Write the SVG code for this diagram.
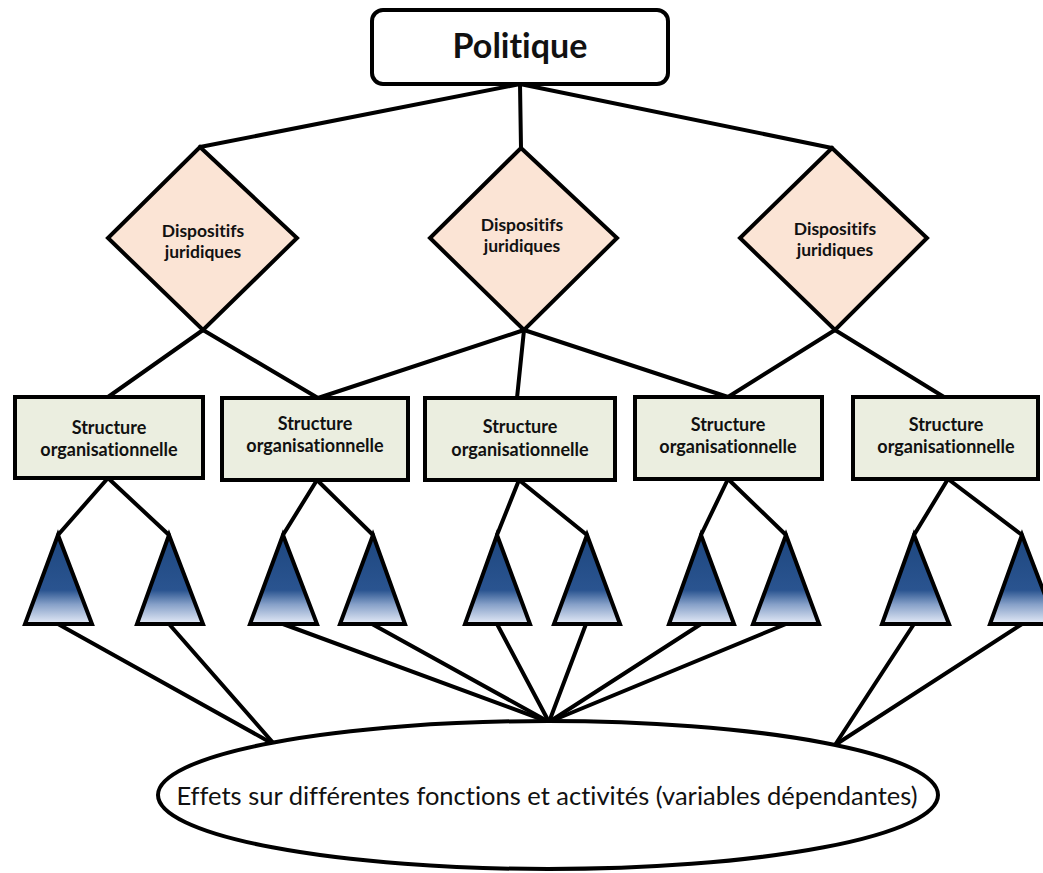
<svg xmlns="http://www.w3.org/2000/svg" width="1043" height="873" viewBox="0 0 1043 873">
<defs>
<linearGradient id="tg" x1="0" y1="0" x2="0" y2="1">
<stop offset="0" stop-color="#1e477f"/>
<stop offset="0.62" stop-color="#2a5490"/>
<stop offset="0.78" stop-color="#86a0c8"/>
<stop offset="1" stop-color="#e6ecf8"/>
</linearGradient>
<style>
.ln{stroke:#000;stroke-width:4;fill:none;stroke-linecap:round}
.dia{fill:#fbe4d5;stroke:#000;stroke-width:4;stroke-linejoin:miter}
.box{fill:#ebeee0;stroke:#000;stroke-width:4}
.tri{fill:url(#tg);stroke:#000;stroke-width:4;stroke-linejoin:miter}
text{font-variant-ligatures:none}
.t{font-family:Lato,"Open Sans",sans-serif;font-weight:bold;fill:#111;text-anchor:middle}
.dt{font-size:17.5px}
.st{font-size:18px}
</style>
</defs>
<rect width="1043" height="873" fill="#fff"/>
<g id="connectors">
<line class="ln" x1="520" y1="84" x2="200" y2="147"/>
<line class="ln" x1="520" y1="84" x2="521" y2="148"/>
<line class="ln" x1="520" y1="84" x2="832" y2="148"/>
<line class="ln" x1="203" y1="330" x2="108" y2="397"/>
<line class="ln" x1="203" y1="330" x2="318" y2="398"/>
<line class="ln" x1="524" y1="330" x2="318" y2="398"/>
<line class="ln" x1="524" y1="330" x2="517" y2="398"/>
<line class="ln" x1="524" y1="330" x2="728" y2="397"/>
<line class="ln" x1="835" y1="330" x2="728" y2="397"/>
<line class="ln" x1="835" y1="330" x2="944" y2="397"/>
<line class="ln" x1="108" y1="478" x2="58" y2="535"/>
<line class="ln" x1="108" y1="478" x2="169" y2="535"/>
<line class="ln" x1="317" y1="480" x2="283" y2="535"/>
<line class="ln" x1="317" y1="480" x2="373" y2="535"/>
<line class="ln" x1="519" y1="480" x2="497" y2="535"/>
<line class="ln" x1="519" y1="480" x2="587" y2="535"/>
<line class="ln" x1="728" y1="479" x2="701" y2="535"/>
<line class="ln" x1="728" y1="479" x2="786" y2="535"/>
<line class="ln" x1="948" y1="479" x2="914" y2="535"/>
<line class="ln" x1="948" y1="479" x2="1022" y2="535"/>
<line class="ln" x1="58" y1="624" x2="275" y2="745"/>
<line class="ln" x1="169" y1="624" x2="275" y2="745"/>
<line class="ln" x1="283" y1="624" x2="549" y2="722"/>
<line class="ln" x1="372" y1="624" x2="549" y2="722"/>
<line class="ln" x1="497" y1="624" x2="549" y2="722"/>
<line class="ln" x1="586" y1="624" x2="549" y2="722"/>
<line class="ln" x1="701" y1="624" x2="549" y2="722"/>
<line class="ln" x1="786" y1="624" x2="549" y2="722"/>
<line class="ln" x1="914" y1="624" x2="835" y2="745"/>
<line class="ln" x1="1022" y1="624" x2="835" y2="745"/>
</g>
<g id="politique">
<rect x="372" y="10" width="296" height="74" rx="11" fill="#fff" stroke="#000" stroke-width="4"/>
<text class="t" x="520" y="58" font-size="34">Politique</text>
</g>
<g id="dispositifs1">
<polygon class="dia" points="200,147 297,238 203,330 108,238"/>
<text class="t dt" x="203" y="237">Dispositifs</text>
<text class="t dt" x="203" y="258">juridiques</text>
</g>
<g id="dispositifs2">
<polygon class="dia" points="521,148 617,238 524,330 430,238"/>
<text class="t dt" x="522" y="231">Dispositifs</text>
<text class="t dt" x="522" y="252">juridiques</text>
</g>
<g id="dispositifs3">
<polygon class="dia" points="832,148 927,238 835,330 740,238"/>
<text class="t dt" x="835" y="235">Dispositifs</text>
<text class="t dt" x="835" y="256">juridiques</text>
</g>
<g id="structure1">
<rect class="box" x="15" y="397" width="188" height="81"/>
<text class="t st" x="109" y="434">Structure</text>
<text class="t st" x="109" y="456">organisationnelle</text>
</g>
<g id="structure2">
<rect class="box" x="222" y="398" width="186" height="82"/>
<text class="t st" x="315" y="430">Structure</text>
<text class="t st" x="315" y="452">organisationnelle</text>
</g>
<g id="structure3">
<rect class="box" x="425" y="398" width="190" height="82"/>
<text class="t st" x="520" y="433">Structure</text>
<text class="t st" x="520" y="456">organisationnelle</text>
</g>
<g id="structure4">
<rect class="box" x="635" y="397" width="187" height="82"/>
<text class="t st" x="728" y="431">Structure</text>
<text class="t st" x="728" y="453">organisationnelle</text>
</g>
<g id="structure5">
<rect class="box" x="853" y="397" width="185" height="82"/>
<text class="t st" x="946" y="431">Structure</text>
<text class="t st" x="946" y="453">organisationnelle</text>
</g>
<g id="tri1"><polygon class="tri" points="58,535 92,624 25,624"/></g>
<g id="tri2"><polygon class="tri" points="169,535 203,624 137,624"/></g>
<g id="tri3"><polygon class="tri" points="283,535 317,624 250,624"/></g>
<g id="tri4"><polygon class="tri" points="373,535 405,624 340,624"/></g>
<g id="tri5"><polygon class="tri" points="497,535 530,624 465,624"/></g>
<g id="tri6"><polygon class="tri" points="587,535 620,624 554,624"/></g>
<g id="tri7"><polygon class="tri" points="701,535 734,624 669,624"/></g>
<g id="tri8"><polygon class="tri" points="786,535 819,624 753,624"/></g>
<g id="tri9"><polygon class="tri" points="914,535 949,624 882,624"/></g>
<g id="tri10"><polygon class="tri" points="1022,535 1056,624 990,624"/></g>
<g id="effets">
<ellipse cx="548" cy="795" rx="390" ry="74" fill="#fff" stroke="#000" stroke-width="4"/>
<text x="547" y="805" font-family="Lato,'Open Sans',sans-serif" font-size="25.5" fill="#111" text-anchor="middle">Effets sur différentes fonctions et activités (variables dépendantes)</text>
</g>
</svg>
